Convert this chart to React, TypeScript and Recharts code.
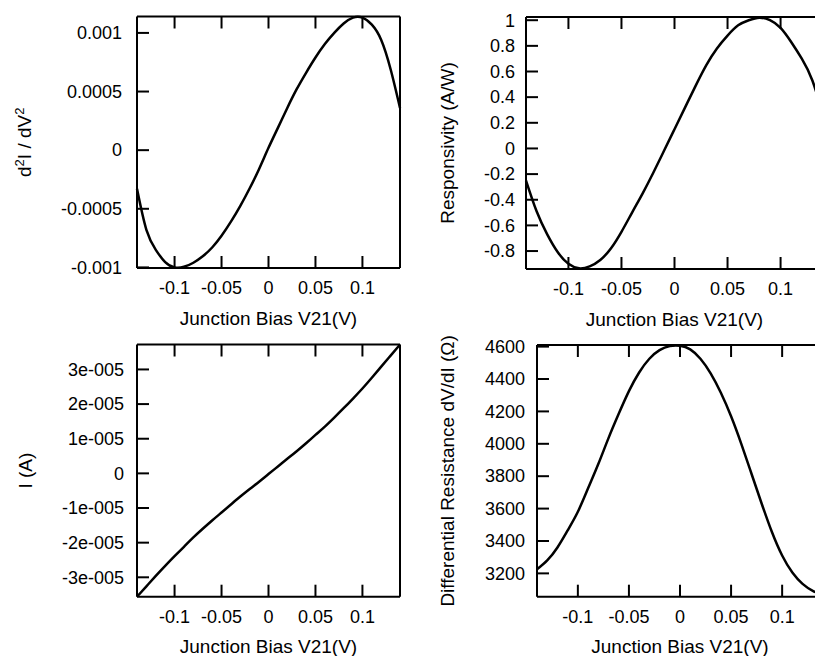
import { Label, Line, LineChart, XAxis, YAxis } from "recharts";

const bias = [
  -0.14, -0.13, -0.12, -0.11, -0.1, -0.09, -0.08, -0.07, -0.06, -0.05, -0.04, -0.03, -0.02, -0.01, 0,
  0.01, 0.02, 0.03, 0.04, 0.05, 0.06, 0.07, 0.08, 0.09, 0.1, 0.11, 0.12, 0.13, 0.14,
];
const d2i = [
  -3.3e-4, -6.8e-4, -8.5e-4, -9.55e-4, -1.0e-3, -9.95e-4, -9.6e-4, -9.05e-4, -8.3e-4, -7.3e-4, -6.1e-4,
  -4.75e-4, -3.25e-4, -1.6e-4, 2e-5, 1.9e-4, 3.6e-4, 5.2e-4, 6.6e-4, 7.9e-4, 9.05e-4, 1.0e-3, 1.08e-3,
  1.13e-3, 1.13e-3, 1.07e-3, 9.4e-4, 6.9e-4, 3.6e-4,
];
const responsivity = [
  -0.25, -0.49, -0.67, -0.81, -0.9, -0.935, -0.92, -0.87, -0.78, -0.65, -0.5, -0.35, -0.19, -0.02, 0.15,
  0.32, 0.49, 0.65, 0.78, 0.88, 0.96, 1.0, 1.02, 1.0, 0.94, 0.83, 0.7, 0.53, 0.26,
];
const current = [
  -3.56e-5, -3.26e-5, -2.96e-5, -2.67e-5, -2.39e-5, -2.12e-5, -1.85e-5, -1.6e-5, -1.36e-5, -1.13e-5,
  -9.0e-6, -6.7e-6, -4.5e-6, -2.4e-6, -2e-7, 2.0e-6, 4.2e-6, 6.4e-6, 8.7e-6, 1.11e-5, 1.35e-5, 1.61e-5,
  1.88e-5, 2.16e-5, 2.45e-5, 2.76e-5, 3.08e-5, 3.4e-5, 3.72e-5,
];
const resistance = [
  3225, 3280, 3360, 3465, 3580, 3725, 3875, 4035, 4185, 4325, 4440, 4525, 4578, 4603, 4605, 4583, 4525,
  4435, 4315, 4170, 4000, 3815, 3630, 3455, 3310, 3205, 3135, 3092, 3065,
];

const xTicks = [-0.1, -0.05, 0, 0.05, 0.1];
const d2iTicks = [-0.001, -0.0005, 0, 0.0005, 0.001];
const respTicks = [-0.8, -0.6, -0.4, -0.2, 0, 0.2, 0.4, 0.6, 0.8, 1];
const currentTicks = [-3e-5, -2e-5, -1e-5, 0, 1e-5, 2e-5, 3e-5];
const resTicks = [3200, 3400, 3600, 3800, 4000, 4200, 4400, 4600];

const rows = bias.map((v, i) => ({
  v,
  d2i: d2i[i],
  resp: responsivity[i],
  cur: current[i],
  res: resistance[i],
}));

const font = "'Liberation Sans', Arial, Helvetica, sans-serif";
const FS = 18;
const TITLE_FS = 19;
const TICK = 12;

const fmtExp = (v: number) => (v === 0 ? "0" : `${Math.round(v * 1e5)}e-005`);

function bottomTick(props: any) {
  const { x, y, payload } = props;
  return (
    <g>
      <line x1={x} y1={y} x2={x} y2={y - TICK} stroke="#000" strokeWidth={2} />
      <text x={x} y={y + 20} dy="0.35em" textAnchor="middle" fontSize={FS} fontFamily={font} fill="#000">
        {payload.value}
      </text>
    </g>
  );
}

function topTick(props: any) {
  const { x, y } = props;
  return <line x1={x} y1={y} x2={x} y2={y + TICK} stroke="#000" strokeWidth={2} />;
}

function rightTick(props: any) {
  const { x, y } = props;
  return <line x1={x} y1={y} x2={x - TICK} y2={y} stroke="#000" strokeWidth={2} />;
}

function leftTick(gap: number, fmt?: (v: number) => string) {
  return (props: any) => {
    const { x, y, payload } = props;
    return (
      <g>
        <line x1={x} y1={y} x2={x + TICK} y2={y} stroke="#000" strokeWidth={2} />
        <text x={x - gap} y={y} dy="0.35em" textAnchor="end" fontSize={FS} fontFamily={font} fill="#000">
          {fmt ? fmt(payload.value) : payload.value}
        </text>
      </g>
    );
  };
}

function yTitle(content: React.ReactNode, dx: number) {
  return (props: any) => {
    const vb = props.viewBox;
    const cx = vb.x + vb.width - dx;
    const cy = vb.y + vb.height / 2;
    return (
      <text
        x={cx}
        y={cy}
        dy="0.35em"
        transform={`rotate(-90 ${cx} ${cy})`}
        textAnchor="middle"
        fontSize={TITLE_FS}
        fontFamily={font}
        fill="#000"
      >
        {content}
      </text>
    );
  };
}

function xTitle(props: any) {
  const vb = props.viewBox;
  return (
    <text
      x={vb.x + vb.width / 2}
      y={vb.y + 50}
      dy="0.35em"
      textAnchor="middle"
      fontSize={TITLE_FS}
      fontFamily={font}
      fill="#000"
    >
      Junction Bias V21(V)
    </text>
  );
}

type Box = { top: number; right: number; bottom: number; left: number };

type PanelProps = {
  left: number;
  top: number;
  width: number;
  height: number;
  plot: Box;
  dataKey: string;
  yDomain: [number, number];
  yTicks: number[];
  fmt?: (v: number) => string;
  gap: number;
  title: React.ReactNode;
  titleDx: number;
};

function Panel(p: PanelProps) {
  const axisLine = { stroke: "#000", strokeWidth: 2 };
  // axes are 1px thick, so margins are one px less than the wanted plot edges
  const margin = {
    top: p.plot.top - 1,
    right: p.plot.right - 1,
    bottom: p.plot.bottom - 1,
    left: p.plot.left - 1,
  };
  return (
    <div style={{ position: "absolute", left: p.left, top: p.top }}>
      <LineChart width={p.width} height={p.height} data={rows} margin={margin}>
        <XAxis
          type="number"
          dataKey="v"
          domain={[-0.14, 0.14]}
          ticks={xTicks}
          interval={0}
          height={1}
          tickSize={0}
          tickMargin={0}
          tickLine={false}
          axisLine={axisLine}
          tick={bottomTick}
        >
          <Label content={xTitle} />
        </XAxis>
        <XAxis
          xAxisId="top"
          orientation="top"
          type="number"
          dataKey="v"
          domain={[-0.14, 0.14]}
          ticks={xTicks}
          interval={0}
          height={1}
          tickSize={0}
          tickMargin={0}
          tickLine={false}
          axisLine={axisLine}
          tick={topTick}
        />
        <YAxis
          type="number"
          domain={p.yDomain}
          ticks={p.yTicks}
          interval={0}
          width={1}
          tickSize={0}
          tickMargin={0}
          tickLine={false}
          axisLine={axisLine}
          tick={leftTick(p.gap, p.fmt)}
        >
          <Label content={yTitle(p.title, p.titleDx)} />
        </YAxis>
        <YAxis
          yAxisId="right"
          orientation="right"
          type="number"
          domain={p.yDomain}
          ticks={p.yTicks}
          interval={0}
          width={1}
          tickSize={0}
          tickMargin={0}
          tickLine={false}
          axisLine={axisLine}
          tick={rightTick}
        />
        <Line
          type="natural"
          dataKey={p.dataKey}
          stroke="#000"
          strokeWidth={2.5}
          dot={false}
          isAnimationActive={false}
        />
      </LineChart>
    </div>
  );
}

export default function App() {
  return (
    <div
      style={{
        position: "absolute",
        left: 0,
        top: 0,
        width: 815,
        height: 656,
        overflow: "hidden",
        background: "#fff",
      }}
    >
      <Panel
        left={0}
        top={0}
        width={420}
        height={330}
        plot={{ top: 16.5, right: 20, bottom: 62, left: 137 }}
        dataKey="d2i"
        yDomain={[-0.001005, 0.00114]}
        yTicks={d2iTicks}
        gap={15}
        titleDx={113}
        title={
          <>
            d<tspan dy={-7} fontSize={13}>2</tspan>
            <tspan dy={7}>I / dV</tspan>
            <tspan dy={-7} fontSize={13}>2</tspan>
          </>
        }
      />
      <Panel
        left={410}
        top={0}
        width={420}
        height={330}
        plot={{ top: 17, right: 7, bottom: 61, left: 116 }}
        dataKey="resp"
        yDomain={[-0.94, 1.025]}
        yTicks={respTicks}
        gap={11}
        titleDx={79}
        title="Responsivity (A/W)"
      />
      <Panel
        left={0}
        top={325}
        width={420}
        height={331}
        plot={{ top: 19.5, right: 20, bottom: 59.3, left: 137 }}
        dataKey="cur"
        yDomain={[-3.56e-5, 3.72e-5]}
        yTicks={currentTicks}
        fmt={fmtExp}
        gap={13}
        titleDx={112}
        title="I (A)"
      />
      <Panel
        left={410}
        top={325}
        width={420}
        height={331}
        plot={{ top: 20, right: 7, bottom: 59.3, left: 127 }}
        dataKey="res"
        yDomain={[3056, 4610]}
        yTicks={resTicks}
        gap={12}
        titleDx={90}
        title="Differential Resistance dV/dI (Ω)"
      />
    </div>
  );
}
